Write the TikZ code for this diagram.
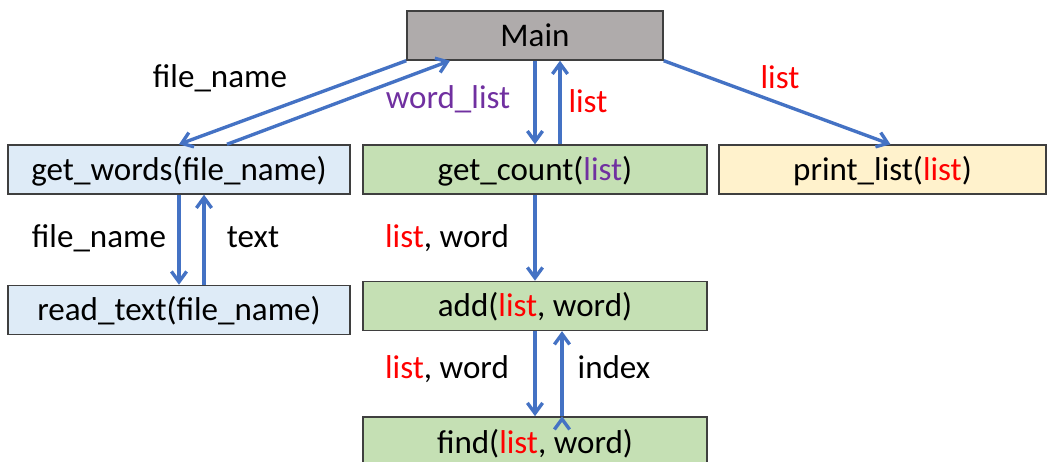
\documentclass[tikz,border=0pt]{standalone}
\usepackage{fontspec}
\setmainfont{Carlito}
\usetikzlibrary{arrows.meta, positioning}
\definecolor{boxline}{HTML}{3F3F3F}
\definecolor{boxgray}{HTML}{AFABAB}
\definecolor{boxblue}{HTML}{DEEBF7}
\definecolor{boxgreen}{HTML}{C5E0B4}
\definecolor{boxyellow}{HTML}{FFF2CC}
\definecolor{arrowblue}{HTML}{4472C4}
\definecolor{listred}{HTML}{FF0000}
\definecolor{listpurple}{HTML}{7030A0}
\newcommand{\lstred}{\textcolor{listred}{list}}
\newcommand{\lstpurple}{\textcolor{listpurple}{list}}

\begin{document}
\begin{tikzpicture}[
        x=0.025cm, y=-0.025cm,
        node distance = 2.125cm,
        punkt/.style = {rectangle, draw=boxline, line width=1pt, inner sep=0pt,
                        text height=15pt, text depth=0pt, minimum height=1.225cm},
        pil/.style = {arrowblue, line width=2.4pt, -{Straight Barb[length=2.6mm,width=3.8mm]}},
        lbl/.style = {anchor=base, inner sep=0pt},
        font=\fontsize{23.5}{28}\selectfont
        ]
        \useasboundingbox (0,0) rectangle (1050,461);

        \node[punkt,fill=boxgray,minimum width=6.4cm] (main) at (535,35.5) {Main};
        \node[punkt,fill=boxblue,minimum width=8.55cm] (getwords) at (179,169.5) {get\_words(file\_name)};
        \node[punkt,fill=boxgreen,minimum width=8.6cm] (getcount) at (535,169.5) {get\_count(\lstpurple)};
        \node[punkt,fill=boxyellow,minimum width=8.175cm] (printlist) at (882.5,169.5) {print\_list(\lstred)};
        \node[punkt,fill=boxblue,minimum width=8.55cm] (readtext) [below=2.25cm of getwords] {read\_text(file\_name)};
        \node[punkt,fill=boxgreen,minimum width=8.6cm] (add) [below=2.15cm of getcount] {add(\lstred, word)};
        \node[punkt,fill=boxgreen,minimum width=8.6cm,minimum height=1.3cm] (find) [below=of add] {find(\lstred, word)};

        % labels on the calls
        \node[lbl] (lmainfile) at (220,87) {file\_name};
        \node[lbl,text=listpurple] (lwordlist) at (448,108) {word\_list};
        \node[lbl,text=listred] (lcountlist) at (588,112) {list};
        \node[lbl,text=listred] (lprintlist) at (780,88) {list};
        \node[lbl] (lreadfile) at (99,247) {file\_name};
        \node[lbl] (ltext) at (253,247) {text};
        \node[lbl] (laddargs) at (447,247) {\lstred, word};
        \node[lbl] (lfindargs) at (447,378) {\lstred, word};
        \node[lbl] (lindex) at (614,378) {index};

        \draw[pil] (main.south west) edge (getwords.north)
        ([xshift=1.2cm]getwords.north) edge ([xshift=-2.125cm]main.south)
        (main.south) edge (getcount.north)
        ([xshift=0.625cm]getcount.north) edge ([xshift=0.625cm]main.south)
        (main.south east) edge ([xshift=0.2cm]printlist.north)
        (getwords.south) edge (readtext.north)
        ([xshift=0.625cm]readtext.north) edge ([xshift=0.625cm]getwords.south)
        (getcount.south) edge (add.north)
        (add.south) edge (find.north)
        ([xshift=0.675cm]find.north) edge ([xshift=0.675cm]add.south);

      \end{tikzpicture}
\end{document}
